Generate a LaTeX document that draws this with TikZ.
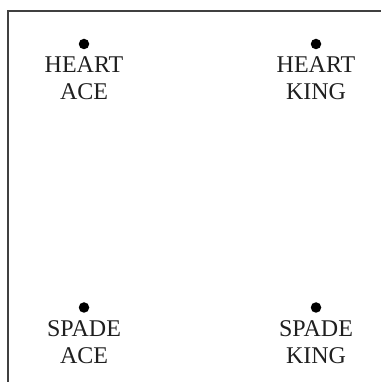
\documentclass[tikz,border=0pt]{standalone}
\usepackage{fontspec}
\setmainfont{Liberation Serif}
\usetikzlibrary{positioning}
\tikzset{
  suitdot/.style={circle,fill=black,inner sep=0pt,minimum size=10.5pt},
  cardname/.style={align=center,font=\fontsize{24}{27}\selectfont,inner sep=0pt,text=black!88},
  frameline/.style={draw=black!75,line width=1.4pt}
}
\begin{document}
\begin{tikzpicture}[x=1pt,y=1pt]
  \useasboundingbox (0,0) rectangle (380,382);
  % open frame: left and top edges only
  \coordinate (bl) at (8,-2);
  \coordinate (tl) at (8,371);
  \coordinate (tr) at (382,371);
  \draw[frameline] (bl) -- (tl) -- (tr);
  % cards
  \node[suitdot] (ha) at (84,338) {};
  \node[cardname,below=7pt of ha] (halabel) {HEART\\ACE};
  \node[suitdot] (hk) at (316,338) {};
  \node[cardname,below=7pt of hk] (hklabel) {HEART\\KING};
  \node[suitdot] (sa) at (84,74.5) {};
  \node[cardname,below=7pt of sa] (salabel) {SPADE\\ACE};
  \node[suitdot] (sk) at (316,74.5) {};
  \node[cardname,below=7pt of sk] (sklabel) {SPADE\\KING};
\end{tikzpicture}
\end{document}
